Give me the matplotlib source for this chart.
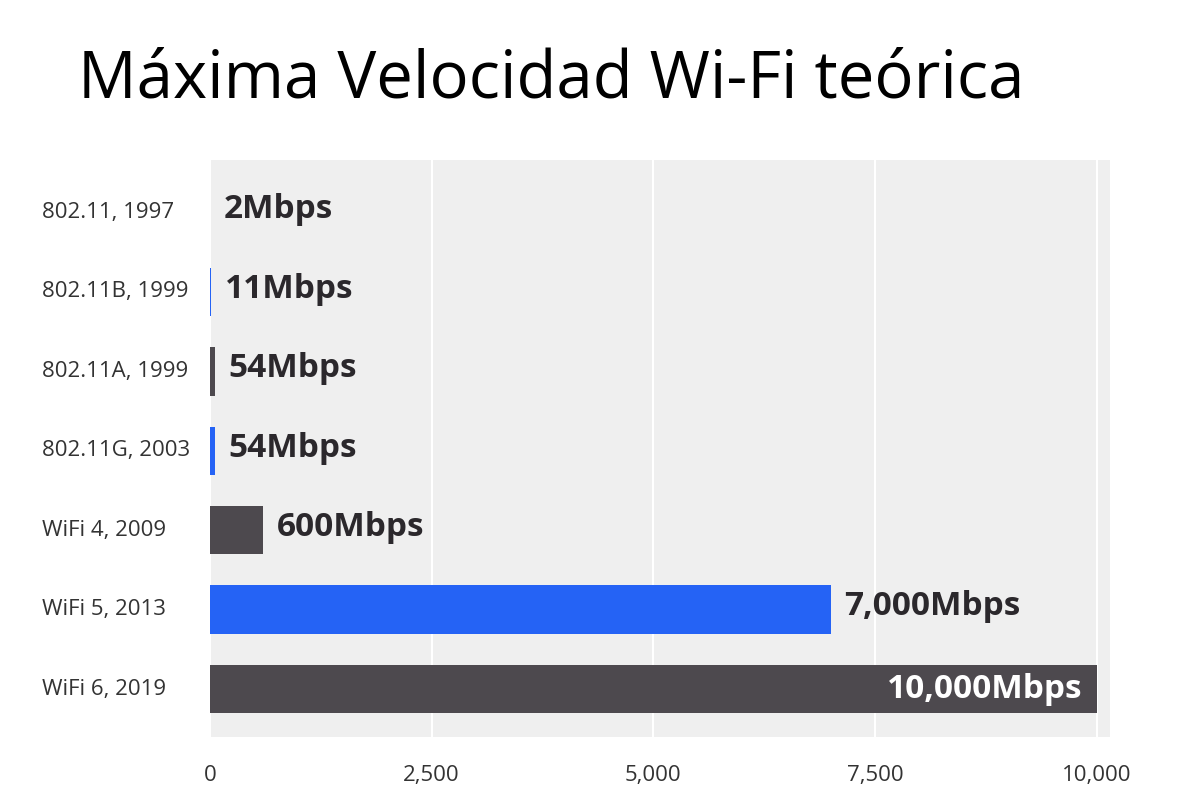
import matplotlib
matplotlib.use("Agg")
import matplotlib.pyplot as plt
from matplotlib.ticker import FuncFormatter

categories = ["802.11, 1997", "802.11B, 1999", "802.11A, 1999", "802.11G, 2003",
              "WiFi 4, 2009", "WiFi 5, 2013", "WiFi 6, 2019"]
speeds = [2, 11, 54, 54, 600, 7000, 10000]
value_labels = ["2Mbps", "11Mbps", "54Mbps", "54Mbps", "600Mbps", "7,000Mbps", "10,000Mbps"]
colors = ["#4d494e", "#2563f5", "#4d494e", "#2563f5", "#4d494e", "#2563f5", "#4d494e"]
xticks = [0, 2500, 5000, 7500, 10000]
title = "Máxima Velocidad Wi-Fi teórica"

fig = plt.figure(figsize=(12, 8), dpi=100)
fig.patch.set_facecolor("white")
ax = fig.add_axes([0.175, 0.079, 0.75, 0.721])
ax.set_facecolor("#efefef")

y = list(range(len(categories)))
ax.barh(y, speeds, height=0.61, color=colors, zorder=3)
ax.set_xlim(0, 10150)
ax.set_ylim(6.6, -0.66)
ax.set_xticks(xticks)
ax.xaxis.set_major_formatter(FuncFormatter(lambda v, p: f"{int(v):,}"))
ax.set_yticks(y)
ax.set_yticklabels(categories)
ax.grid(axis="x", color="white", linewidth=1.5, zorder=0)
for s in ax.spines.values():
    s.set_visible(False)
ax.tick_params(axis="both", length=0, labelsize=16, labelcolor="#333333")
ax.tick_params(axis="x", pad=20)
ax.tick_params(axis="y", pad=121)
for lab in ax.get_xticklabels() + ax.get_yticklabels():
    lab.set_fontfamily("Open Sans")
for lab in ax.get_yticklabels():
    lab.set_horizontalalignment("left")
    lab.set_verticalalignment("center")

for i, (v, lab) in enumerate(zip(speeds, value_labels)):
    if i == len(speeds) - 1:
        ax.annotate(lab, (v, i), xytext=(-10, 0), textcoords="offset points",
                    ha="right", va="center", fontsize=24, fontweight="bold",
                    color="white", fontfamily="Open Sans", zorder=4)
    else:
        ax.annotate(lab, (v, i), xytext=(10, 2), textcoords="offset points",
                    ha="left", va="center", fontsize=24, fontweight="bold",
                    color="#2b282c", fontfamily="Open Sans", zorder=4)

fig.text(0.065, 0.9, title, fontsize=47, color="black",
         fontfamily="Open Sans", ha="left", va="center")

fig.savefig("out.png", dpi=100)
